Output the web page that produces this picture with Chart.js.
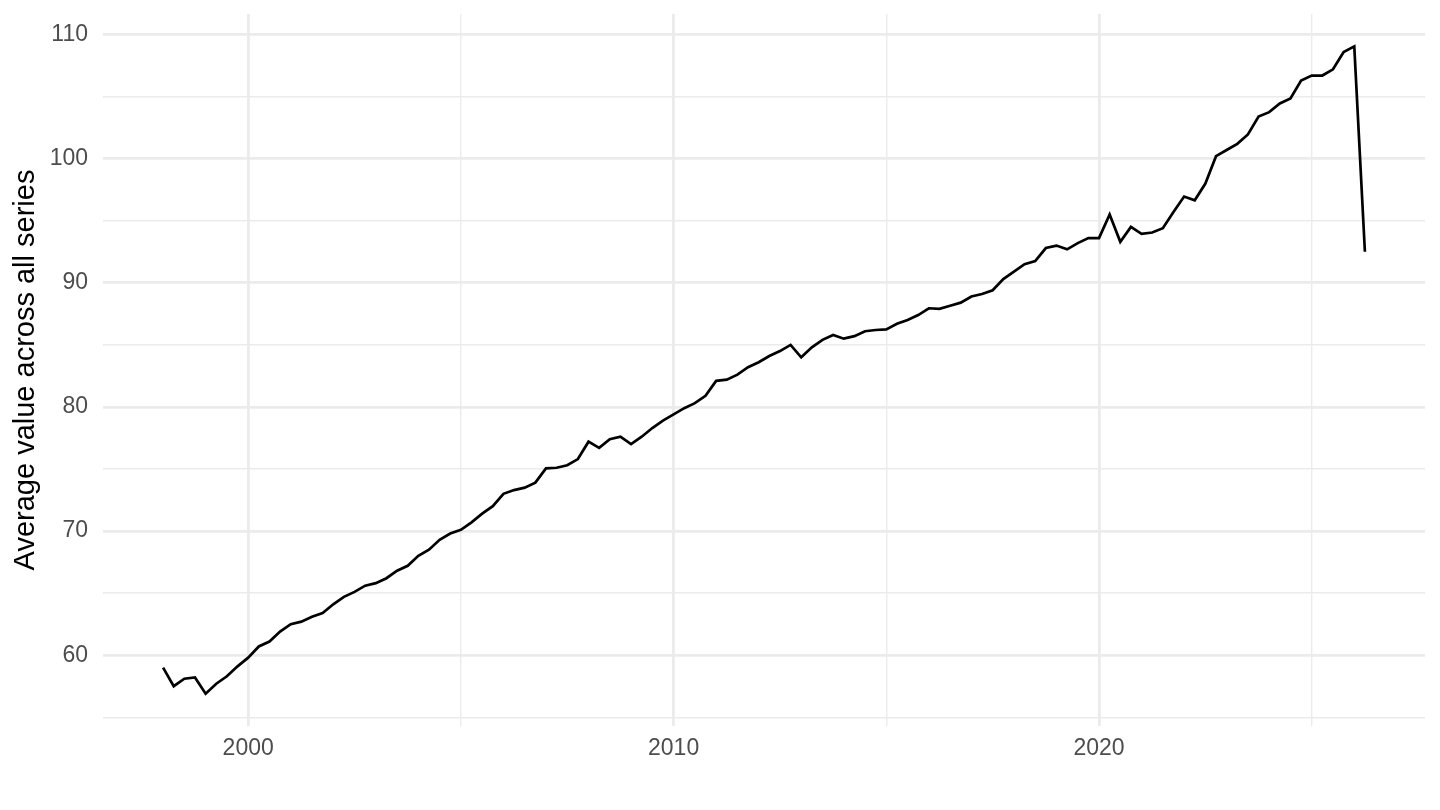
<!DOCTYPE html>
<html>
<head>
<meta charset="utf-8">
<script src="https://cdn.jsdelivr.net/npm/chart.js@4"></script>
<style>
  html, body { margin: 0; padding: 0; background: #ffffff; }
  #wrap { width: 1440px; height: 810px; position: relative; }
</style>
</head>
<body>
<div id="wrap"><canvas id="c"></canvas></div>
<script>
// ---- data (quarterly, starting 1998 Q1) ----
const startYear = 1998;
const values = [
  59.0, 57.5, 58.1, 58.2, 56.9, 57.7, 58.3, 59.1,
  59.8, 60.7, 61.1, 61.9, 62.5, 62.7, 63.1, 63.4,
  64.1, 64.7, 65.1, 65.6, 65.8, 66.2, 66.8, 67.2,
  68.0, 68.5, 69.3, 69.8, 70.1, 70.7, 71.4, 72.0,
  73.0, 73.3, 73.5, 73.9, 75.05, 75.1, 75.3, 75.8,
  77.2, 76.7, 77.4, 77.6, 77.0, 77.6, 78.3, 78.9,
  79.4, 79.9, 80.3, 80.9, 82.1, 82.2, 82.6, 83.2,
  83.6, 84.1, 84.5, 85.0, 84.0, 84.8, 85.4, 85.8,
  85.5, 85.7, 86.1, 86.2, 86.25, 86.7, 87.0, 87.4,
  87.95, 87.9, 88.15, 88.4, 88.9, 89.1, 89.4, 90.3,
  90.9, 91.5, 91.75, 92.8, 93.0, 92.7, 93.2, 93.6,
  93.6, 95.5, 93.3, 94.5, 93.95, 94.05, 94.4, 95.7,
  96.95, 96.65, 98.0, 100.2, 100.7, 101.2, 101.95, 103.4,
  103.75, 104.45, 104.85, 106.3, 106.7, 106.7, 107.2, 108.6,
  109.05, 92.5
];
const periods = values.map((_, i) => startYear + i / 4);

const xMajorTicks = [2000, 2010, 2020];
const xMinorTicks = [2005, 2015, 2025];
const yMajorTicks = [60, 70, 80, 90, 100, 110];
const yMinorTicks = [55, 65, 75, 85, 95, 105];
const yTitle = 'Average value across all series';

// ---- ggplot-like 5% expansion ----
function expand(min, max) { const d = (max - min) * 0.05; return [min - d, max + d]; }
const [xMin, xMax] = expand(Math.min(...periods), Math.max(...periods));
const [yMin, yMax] = expand(Math.min(...values), Math.max(...values));

const points = periods.map((p, i) => ({ x: p, y: values[i] }));

const FONT = "'Liberation Sans', Arial, Helvetica, sans-serif";
const GRID = '#EBEBEB';

new Chart(document.getElementById('c'), {
  type: 'line',
  data: {
    datasets: [{
      data: points,
      borderColor: '#000000',
      borderWidth: 2.7,
      pointRadius: 0,
      pointHoverRadius: 0,
      tension: 0,
      fill: false
    }]
  },
  options: {
    responsive: true,
    maintainAspectRatio: false,
    animation: false,
    events: [],
    layout: { padding: { top: 14, right: 15, bottom: 0, left: 0 } },
    plugins: { legend: { display: false }, tooltip: { enabled: false }, title: { display: false } },
    scales: {
      x: {
        type: 'linear',
        min: xMin,
        max: xMax,
        afterBuildTicks: (axis) => {
          axis.ticks = [...xMajorTicks, ...xMinorTicks].sort((a, b) => a - b).map(v => ({ value: v }));
        },
        afterFit: (axis) => { axis.height = 84; axis.paddingLeft = 0; axis.paddingRight = 0; },
        border: { display: false },
        grid: {
          drawTicks: false,
          color: GRID,
          lineWidth: (ctx) => (ctx.tick && xMajorTicks.includes(ctx.tick.value)) ? 2.8 : 1.4
        },
        ticks: {
          autoSkip: false,
          maxRotation: 0,
          padding: 9,
          color: '#4D4D4D',
          font: { family: FONT, size: 23 },
          callback: (v) => xMajorTicks.includes(v) ? String(v) : ''
        }
      },
      y: {
        type: 'linear',
        min: yMin,
        max: yMax,
        afterBuildTicks: (axis) => {
          axis.ticks = [...yMajorTicks, ...yMinorTicks].sort((a, b) => a - b).map(v => ({ value: v }));
        },
        afterFit: (axis) => { axis.width = 103; axis.paddingTop = 0; axis.paddingBottom = 0; },
        border: { display: false },
        grid: {
          drawTicks: false,
          color: GRID,
          lineWidth: (ctx) => (ctx.tick && yMajorTicks.includes(ctx.tick.value)) ? 2.8 : 1.4
        },
        ticks: {
          autoSkip: false,
          padding: 15,
          color: '#4D4D4D',
          font: { family: FONT, size: 23 },
          callback: (v) => yMajorTicks.includes(v) ? String(v) : ''
        },
        title: {
          display: true,
          text: yTitle,
          color: '#000000',
          font: { family: FONT, size: 29 },
          padding: { top: 9, bottom: 0 }
        }
      }
    }
  }
});
</script>
</body>
</html>
